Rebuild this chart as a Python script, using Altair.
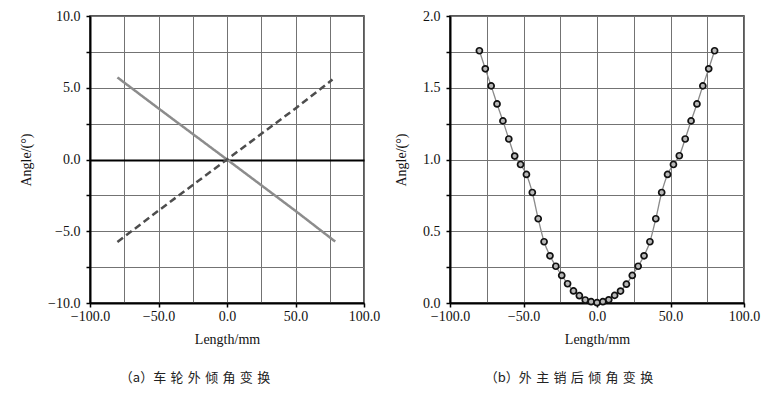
import altair as alt
import pandas as pd

# ---- panel (a): wheel camber change ----
camber_solid_x = [-80.0, -50.0, 0.0, 50.0, 79.0]
camber_solid_y = [5.72, 3.56, 0.0, -3.58, -5.72]
camber_dash_x = [-80.0, -50.0, 0.0, 50.0, 77.0]
camber_dash_y = [-5.75, -3.56, 0.0, 3.56, 5.57]

# ---- panel (b): kingpin caster change ----
caster_x = [-80, -76, -72, -68, -64, -60, -56, -52, -48, -44, -40, -36, -32, -28,
            -24, -20, -16, -12, -8, -4, 0, 4, 8, 12, 16, 20, 24, 28, 32, 36, 40,
            44, 48, 52, 56, 60, 64, 68, 72, 76, 80]
caster_y = [1.758, 1.632, 1.513, 1.387, 1.269, 1.143, 1.024, 0.965, 0.896, 0.770,
            0.587, 0.427, 0.329, 0.256, 0.192, 0.134, 0.084, 0.051, 0.021, 0.009,
            0.002, 0.009, 0.022, 0.053, 0.083, 0.131, 0.192, 0.256, 0.329, 0.427,
            0.587, 0.770, 0.896, 0.965, 1.026, 1.143, 1.269, 1.387, 1.513, 1.632,
            1.758]

x_vals = [-100, -75, -50, -25, 0, 25, 50, 75, 100]
ya_vals = [-10, -7.5, -5, -2.5, 0, 2.5, 5, 7.5, 10]
yb_vals = [0, 0.25, 0.5, 0.75, 1.0, 1.25, 1.5, 1.75, 2.0]

SP = "\u2004"
caption_a = "（a）" + SP.join("车轮外倾角变换")
caption_b = "（b）" + SP.join("外主销后倾角变换")

SERIF = "Liberation Serif"
GRID = "#737373"

df_a = pd.concat([
    pd.DataFrame({"x": camber_solid_x, "y": camber_solid_y, "s": "solid"}),
    pd.DataFrame({"x": camber_dash_x, "y": camber_dash_y, "s": "dash"}),
])
df_b = pd.DataFrame({"x": caster_x, "y": caster_y})

FMT = "replace(format(datum.value, '.1f'), '-', '\u2212')"


def x_axis():
    return alt.Axis(
        values=x_vals, title="Length/mm", labelFlush=False,
        labelExpr=f"datum.value % 50 === 0 ? {FMT} : ''",
        tickOpacity={"condition": {"test": "datum.value % 50 !== 0", "value": 0}, "value": 1},
        labelPadding=2, titlePadding=9,
    )


def y_axis(vals, step, title, zero_line=False):
    kw = {}
    if zero_line:
        kw["gridColor"] = {"condition": {"test": "datum.value === 0", "value": "#000000"}, "value": GRID}
        kw["gridWidth"] = {"condition": {"test": "datum.value === 0", "value": 2}, "value": 1}
    return alt.Axis(
        values=vals, title=title,
        labelExpr=f"abs(datum.value % {step}) < 1e-9 ? {FMT} : ''",
        labelPadding=6, titlePadding=14, **kw,
    )


xs = alt.Scale(domain=[-100, 100], nice=False, zero=False)

cap_kw = dict(orient="bottom", anchor="middle", font="Noto Sans CJK SC",
              fontSize=13, fontWeight="normal", color="#222222", offset=26)

chart_a = alt.Chart(df_a).mark_line(strokeWidth=2.5).encode(
    x=alt.X("x:Q", scale=xs, axis=x_axis()),
    y=alt.Y("y:Q", scale=alt.Scale(domain=[-10, 10], nice=False),
            axis=y_axis(ya_vals, 5, "Angle/(°)", zero_line=True)),
    color=alt.Color("s:N", scale=alt.Scale(domain=["solid", "dash"], range=["#8c8c8c", "#4d4d4d"]), legend=None),
    strokeDash=alt.StrokeDash("s:N", scale=alt.Scale(domain=["solid", "dash"], range=[[1, 0], [7, 4]]), legend=None),
).properties(
    width=274, height=287,
    title=alt.TitleParams(caption_a, dx=-32, **cap_kw),
)

base_b = alt.Chart(df_b).encode(
    x=alt.X("x:Q", scale=xs, axis=x_axis()),
    y=alt.Y("y:Q", scale=alt.Scale(domain=[0, 2], nice=False),
            axis=y_axis(yb_vals, 0.5, "Angle/(°)")),
)
line_b = base_b.mark_line(color="#8a8a8a", strokeWidth=1.3, interpolate="monotone")
pts_b = base_b.mark_point(filled=False, fill="#b8b8b8", fillOpacity=1, stroke="#111111",
                          strokeWidth=1.7, size=36, opacity=1)
chart_b = alt.layer(line_b, pts_b).properties(
    width=294, height=287,
    title=alt.TitleParams(caption_b, dx=-28, **cap_kw),
)

chart = alt.hconcat(chart_a, chart_b, spacing=12).properties(
    padding={"left": 10, "top": 0, "right": 0, "bottom": 0},
    background="white",
).configure_view(
    stroke="#222222", strokeWidth=1.5,
).configure_axis(
    domainColor="#000000", domainWidth=2, tickColor="#000000", tickSize=4, tickWidth=1.5,
    gridColor=GRID, gridWidth=1,
    labelFont=SERIF, labelFontSize=14, labelColor="#111111",
    titleFont=SERIF, titleFontSize=14, titleFontWeight="normal", titleColor="#111111",
)

chart.save("out.html", embed_options={"renderer": "svg", "actions": False})
